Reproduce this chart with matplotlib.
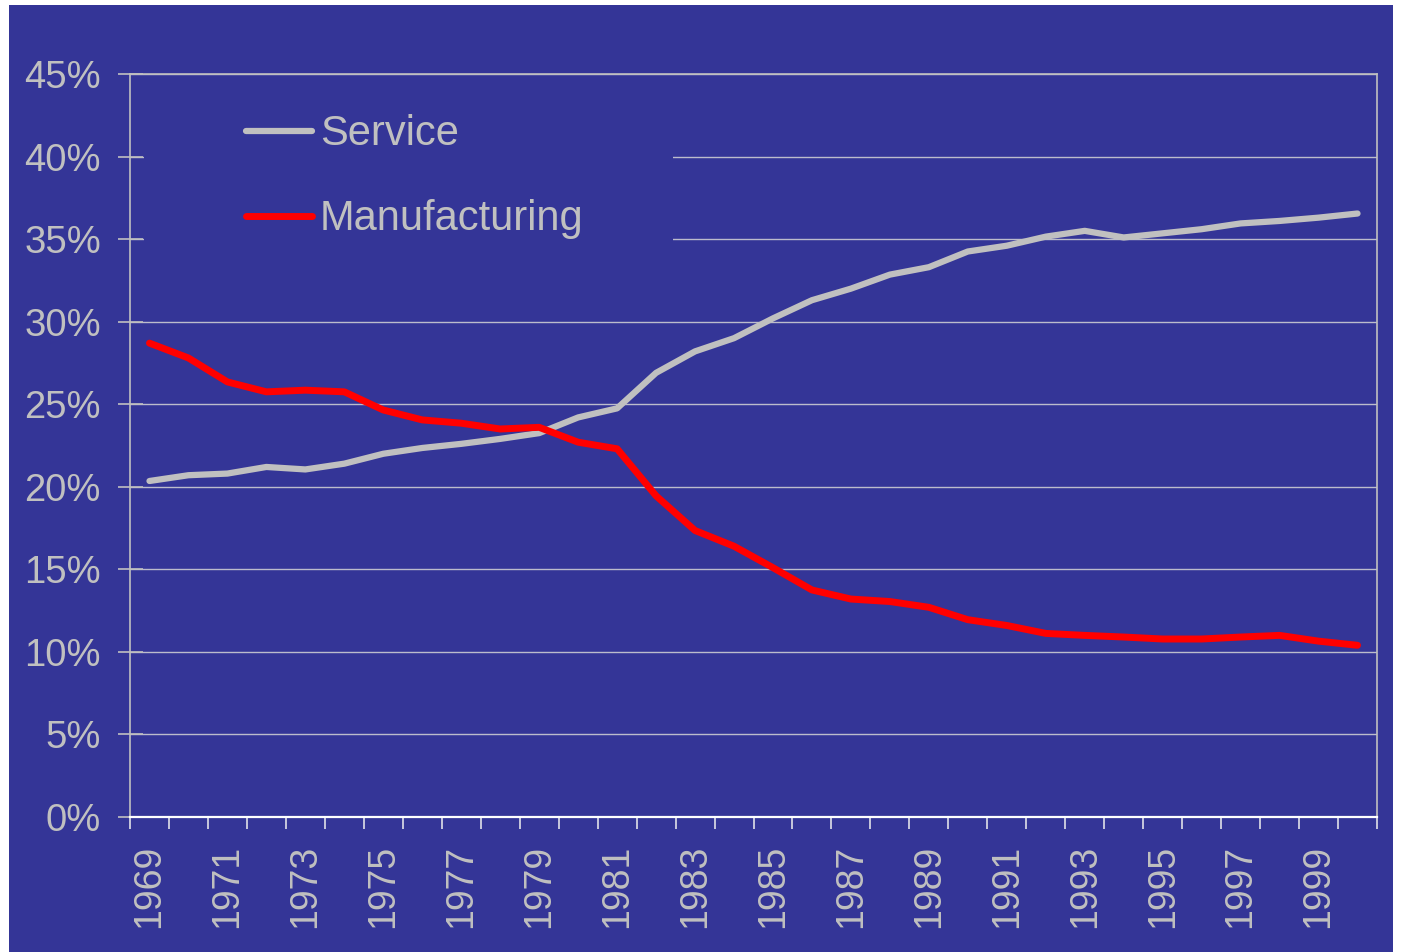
import matplotlib
matplotlib.use("Agg")
import matplotlib.pyplot as plt
from matplotlib.patches import Rectangle
import numpy as np

# Share of employment by sector, 1969-2000 (percent)
years = list(range(1969, 2001))
service = [20.35, 20.7, 20.8, 21.2, 21.05, 21.4, 22.0, 22.35, 22.6, 22.9,
           23.25, 24.2, 24.75, 26.9, 28.2, 29.0, 30.2, 31.3, 32.0, 32.85,
           33.3, 34.25, 34.6, 35.15, 35.5, 35.1, 35.35, 35.6, 35.95, 36.1,
           36.3, 36.55]
manufacturing = [28.7, 27.8, 26.35, 25.75, 25.85, 25.75, 24.65, 24.05, 23.85, 23.5,
                 23.6, 22.7, 22.3, 19.45, 17.35, 16.4, 15.1, 13.75, 13.2, 13.05,
                 12.7, 11.95, 11.6, 11.12, 11.0, 10.9, 10.78, 10.78, 10.9, 11.0,
                 10.65, 10.4]
y_ticks = [0, 5, 10, 15, 20, 25, 30, 35, 40, 45]
series_names = ["Service", "Manufacturing"]

BG = "#343597"
SILVER = "#C0C0C0"
RED = "#FF0000"

plt.rcParams["font.family"] = ["Liberation Sans", "DejaVu Sans"]

W, H = 1402, 952
fig = plt.figure(figsize=(W / 100, H / 100), dpi=100, facecolor="white")

# Blue slide background with a thin white margin
fig.patches.append(Rectangle((9 / W, 0), (1393 - 9) / W, (H - 5) / H,
                             transform=fig.transFigure, facecolor=BG,
                             edgecolor="none", zorder=-10))

left, right, top, bottom = 130, 1377, 74, 817
ax = fig.add_axes([left / W, (H - bottom) / H, (right - left) / W, (bottom - top) / H])
ax.set_facecolor("none")
ax.set_zorder(1)

x = np.arange(len(years))
ax.plot(x, service, color=SILVER, lw=4.5, solid_capstyle="round",
        solid_joinstyle="round", label=series_names[0], zorder=3)
ax.plot(x, manufacturing, color=RED, lw=5.0, solid_capstyle="round",
        solid_joinstyle="round", label=series_names[1], zorder=3)

ax.set_xlim(-0.5, len(years) - 0.5)
ax.set_ylim(0, 45)

# Category axis: ticks between categories, labels every other year
ax.set_xticks(np.arange(-0.5, len(years), 1.0))
ax.set_xticklabels([])
ax.set_xticks(x[::2], minor=True)
ax.set_xticklabels([str(y) for y in years[::2]], minor=True, rotation=90,
                   fontsize=27, color=SILVER)
ax.tick_params(axis="x", which="major", direction="out", length=8.6,
               width=1.2, color="#E0E0E8")
ax.tick_params(axis="x", which="minor", length=0, pad=20)

ax.set_yticks(y_ticks)
ax.set_yticklabels([f"{v}%" for v in y_ticks], fontsize=27.5, color=SILVER)
ax.tick_params(axis="y", direction="inout", length=18, width=1.2,
               color=SILVER, pad=12)

ax.grid(axis="y", color="#BCBCCC", lw=1.0)
ax.grid(axis="x", visible=False)

for side in ("left", "top", "right"):
    ax.spines[side].set_color(SILVER)
    ax.spines[side].set_linewidth(1.2)
ax.spines["bottom"].set_color("white")
ax.spines["bottom"].set_linewidth(1.6)

# Panel behind the legend hides the gridlines there
ax.add_patch(Rectangle((14 / (right - left), 0.74), (673 - 144) / (right - left), 0.2,
                       transform=ax.transAxes, facecolor=BG, edgecolor="none",
                       zorder=1.6))

leg = ax.legend(loc="upper left", bbox_to_anchor=((244 - left) / (right - left) - 0.012, 0.968),
                frameon=False, fontsize=30, labelcolor=SILVER,
                handlelength=1.58, handletextpad=0.2, labelspacing=1.08,
                borderaxespad=0)

fig.savefig("out.png", dpi=100, facecolor="white")
